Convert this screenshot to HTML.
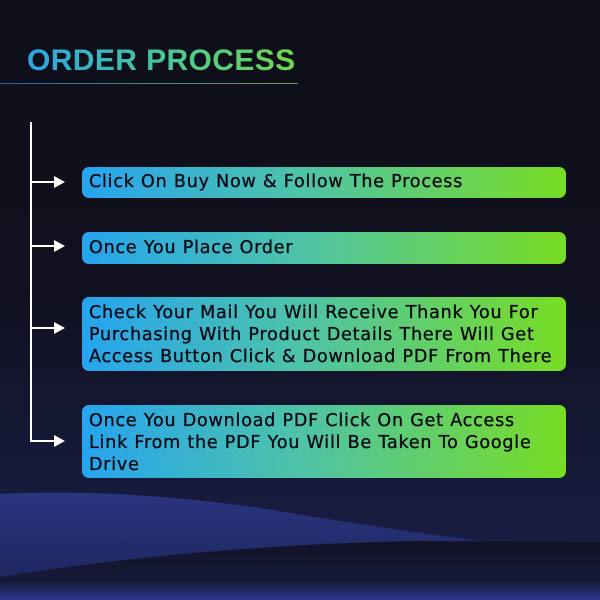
<!DOCTYPE html>
<html><head><style>
body{margin:0}
#c{position:relative;width:600px;height:600px;overflow:hidden;background:linear-gradient(180deg,#0f0f1b 0%,#10101e 45%,#161a3a 80%,#1a1f48 100%);font-family:"Liberation Sans",sans-serif}
h1{position:absolute;left:27px;top:44px;margin:0;font-size:30px;font-weight:bold;letter-spacing:0.4px;background:linear-gradient(90deg,#2aa6e6,#48c79a 50%,#6fd84a);-webkit-background-clip:text;background-clip:text;color:transparent}
.ul{position:absolute;left:0;top:83px;width:298px;height:1px;background:linear-gradient(90deg,#2c5fa8,#6aa850)}
.box{position:absolute;left:82px;width:484px;border-radius:7px;background:linear-gradient(90deg,#26a4f0,#4ec3a8 45%,#78dd24);color:#0a0a14;font-family:"DejaVu Sans",sans-serif;font-size:17.5px;letter-spacing:0.8px;-webkit-text-stroke:0.35px #0a0a14;line-height:22px;padding:5px 7px;box-sizing:border-box;white-space:nowrap;overflow:hidden}
.v{position:absolute;left:30px;top:122px;width:2px;height:320px;background:#fff}
.h{position:absolute;left:30px;height:2px;width:24px;background:#fff}
.a{position:absolute;left:54px;width:0;height:0;border-top:6px solid transparent;border-bottom:6px solid transparent;border-left:11px solid #fff}
</style></head><body><div id="c">
<svg width="600" height="600" style="position:absolute;left:0;top:0">
<defs><linearGradient id="g1" x1="0" y1="0" x2="0" y2="1"><stop offset="0" stop-color="#2a3580"/><stop offset="1" stop-color="#1c2358"/></linearGradient>
<linearGradient id="g2" x1="0" y1="0" x2="0" y2="1"><stop offset="0" stop-color="#121226"/><stop offset="0.7" stop-color="#161a3a"/><stop offset="1" stop-color="#2c3890"/></linearGradient></defs>
<path d="M0 494 Q120 488 260 508 Q380 528 480 541 L600 545 L600 600 L0 600Z" fill="url(#g1)"/>
<path d="M0 577 Q200 545 420 541 L600 542 L600 600 L0 600Z" fill="url(#g2)"/>
</svg>
<h1>ORDER PROCESS</h1><div class="ul"></div>
<div class="v"></div>
<div class="h" style="top:181px"></div><div class="a" style="top:176px"></div>
<div class="h" style="top:245px"></div><div class="a" style="top:240px"></div>
<div class="h" style="top:327px"></div><div class="a" style="top:322px"></div>
<div class="h" style="top:440px"></div><div class="a" style="top:435px"></div>
<div class="box" style="top:167px;height:31px;padding-top:4px">Click On Buy Now &amp; Follow The Process</div>
<div class="box" style="top:232px;height:32px">Once You Place Order</div>
<div class="box" style="top:297px;height:74px">Check Your Mail You Will Receive Thank You For<br>Purchasing With Product Details There Will Get<br>Access Button Click &amp; Download PDF From There</div>
<div class="box" style="top:405px;height:73px">Once You Download PDF Click On Get Access<br>Link From the PDF You Will Be Taken To Google<br>Drive</div>
</div></body></html>
